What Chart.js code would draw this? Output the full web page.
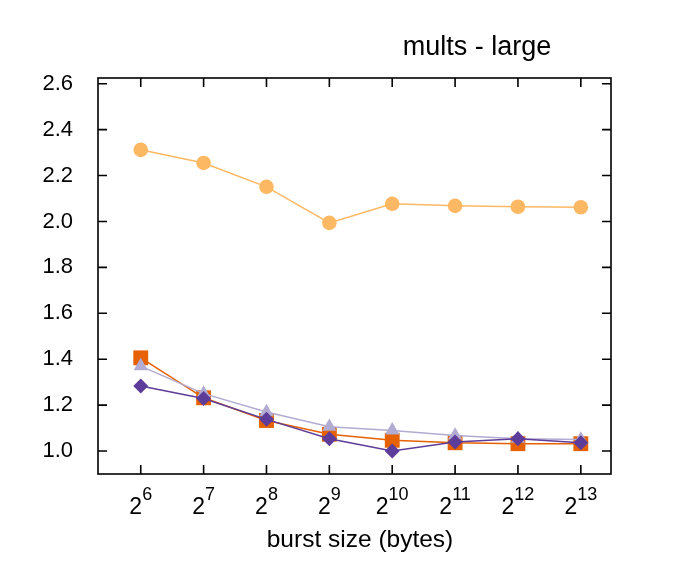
<!DOCTYPE html>
<html>
<head>
<meta charset="utf-8">
<script src="https://cdn.jsdelivr.net/npm/chart.js@4"></script>
<style>
  html, body { margin: 0; padding: 0; background: #fff; }
</style>
</head>
<body>
<canvas id="multsChart" width="677" height="564"></canvas>
<script>
// exponents of the burst size, 2^6 .. 2^13
const exponents = [6, 7, 8, 9, 10, 11, 12, 13];

// series values
const seriesLightOrange = [2.312, 2.255, 2.151, 1.994, 2.077, 2.068, 2.064, 2.062];
const seriesDarkOrange  = [1.406, 1.232, 1.133, 1.073, 1.047, 1.036, 1.032, 1.032];
const seriesLightPurple = [1.370, 1.250, 1.170, 1.106, 1.090, 1.068, 1.054, 1.050];
const seriesDarkPurple  = [1.283, 1.229, 1.138, 1.054, 1.000, 1.039, 1.054, 1.036];

const yTicks = [1.0, 1.2, 1.4, 1.6, 1.8, 2.0, 2.2, 2.4, 2.6];

const FONT = '"Liberation Sans", Arial, sans-serif';

function points(values) {
    return values.map((v, i) => ({ x: exponents[i], y: v }));
}

// gnuplot-ish frame: box, inward ticks on all sides, superscript x labels, titles
const framePlugin = {
    id: 'frame',
    afterDraw(chart) {
        const { ctx, chartArea: a, scales } = chart;
        const tick = 9;
        ctx.save();
        ctx.strokeStyle = '#000';
        ctx.lineWidth = 1.6;

        ctx.beginPath();
        for (const e of exponents) {
            const px = scales.x.getPixelForValue(e);
            ctx.moveTo(px, a.bottom);
            ctx.lineTo(px, a.bottom - tick);
            ctx.moveTo(px, a.top);
            ctx.lineTo(px, a.top + tick);
        }
        for (const v of yTicks) {
            const py = scales.y.getPixelForValue(v);
            ctx.moveTo(a.left, py);
            ctx.lineTo(a.left + tick, py);
            ctx.moveTo(a.right, py);
            ctx.lineTo(a.right - tick, py);
        }
        ctx.stroke();
        ctx.strokeRect(a.left, a.top, a.right - a.left, a.bottom - a.top);

        // x tick labels as 2^n
        ctx.fillStyle = '#000';
        ctx.textBaseline = 'alphabetic';
        for (const e of exponents) {
            const px = scales.x.getPixelForValue(e);
            ctx.font = '23px ' + FONT;
            const baseW = ctx.measureText('2').width;
            ctx.font = '18px ' + FONT;
            const supW = ctx.measureText(String(e)).width;
            const start = px - (baseW + supW) / 2;
            ctx.font = '23px ' + FONT;
            ctx.textAlign = 'left';
            ctx.fillText('2', start, 514);
            ctx.font = '18px ' + FONT;
            ctx.fillText(String(e), start + baseW, 500);
        }

        ctx.textAlign = 'center';
        ctx.font = '24.5px ' + FONT;
        ctx.fillText('burst size (bytes)', 360, 547);
        ctx.font = '27px ' + FONT;
        ctx.fillText('mults - large', 477, 55);
        ctx.restore();
    }
};

new Chart(document.getElementById('multsChart'), {
    type: 'line',
    data: {
        datasets: [
            {
                label: 'dark purple',
                data: points(seriesDarkPurple),
                borderColor: '#5e3c99',
                backgroundColor: '#5e3c99',
                pointStyle: 'rectRot',
                pointRadius: 7.5,
                order: 1
            },
            {
                label: 'light purple',
                data: points(seriesLightPurple),
                borderColor: '#b2abd2',
                backgroundColor: '#b2abd2',
                pointStyle: 'triangle',
                pointRadius: 8.3,
                order: 2
            },
            {
                label: 'dark orange',
                data: points(seriesDarkOrange),
                borderColor: '#e66101',
                backgroundColor: '#e66101',
                pointStyle: 'rect',
                pointRadius: 10.5,
                order: 3
            },
            {
                label: 'light orange',
                data: points(seriesLightOrange),
                borderColor: '#fdb863',
                backgroundColor: '#fdb863',
                pointStyle: 'circle',
                pointRadius: 7.3,
                order: 4
            }
        ]
    },
    options: {
        responsive: false,
        animation: false,
        events: [],
        layout: {
            padding: { top: 78, right: 66, bottom: 90, left: 0 }
        },
        elements: {
            line: { borderWidth: 1.5, tension: 0, fill: false },
            point: { borderWidth: 0 }
        },
        scales: {
            x: {
                type: 'linear',
                display: false,
                min: 5.32,
                max: 13.48
            },
            y: {
                type: 'linear',
                min: 0.9,
                max: 2.625,
                afterFit(scale) { scale.width = 98; },
                afterBuildTicks(scale) {
                    scale.ticks = yTicks.map(v => ({ value: v }));
                },
                grid: { display: false },
                border: { display: false },
                ticks: {
                    color: '#000',
                    padding: 17,
                    font: { family: FONT, size: 22 },
                    callback: v => v.toFixed(1)
                }
            }
        },
        plugins: {
            legend: { display: false },
            tooltip: { enabled: false }
        }
    },
    plugins: [framePlugin]
});
</script>
</body>
</html>
